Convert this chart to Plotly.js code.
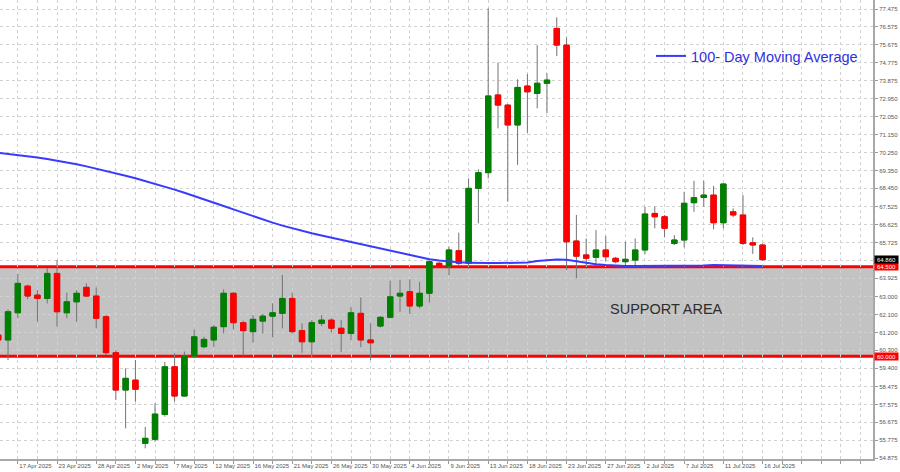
<!DOCTYPE html>
<html>
<head>
<meta charset="utf-8">
<script src="https://cdn.plot.ly/plotly-3.0.1.min.js"></script>
<style>html,body{margin:0;padding:0;background:#fff;}#chart{width:900px;height:472px;}</style>
</head>
<body>
<div id="chart"></div>
<script>
const dates = ["2025-04-15","2025-04-16","2025-04-17","2025-04-20","2025-04-21","2025-04-22","2025-04-23","2025-04-24","2025-04-25","2025-04-27",
"2025-04-28","2025-04-29","2025-04-30","2025-05-01","2025-05-02","2025-05-04","2025-05-05","2025-05-06","2025-05-07","2025-05-08",
"2025-05-09","2025-05-11","2025-05-12","2025-05-13","2025-05-14","2025-05-15","2025-05-16","2025-05-18","2025-05-19","2025-05-20",
"2025-05-21","2025-05-22","2025-05-23","2025-05-25","2025-05-26","2025-05-27","2025-05-28","2025-05-29","2025-05-30","2025-06-01",
"2025-06-02","2025-06-03","2025-06-04","2025-06-05","2025-06-06","2025-06-08","2025-06-09","2025-06-10","2025-06-11","2025-06-12",
"2025-06-13","2025-06-15","2025-06-16","2025-06-17","2025-06-18","2025-06-19","2025-06-20","2025-06-22","2025-06-23","2025-06-24",
"2025-06-25","2025-06-26","2025-06-27","2025-06-29","2025-06-30","2025-07-01","2025-07-02","2025-07-03","2025-07-04","2025-07-06",
"2025-07-07","2025-07-08","2025-07-09","2025-07-10","2025-07-11","2025-07-13","2025-07-14","2025-07-15","2025-07-16"];

const open = [61.07,60.82,62.19,63.53,63.08,62.91,64.17,62.19,62.74,63.47,
63.03,61.99,60.18,58.30,58.80,55.62,55.82,57.07,59.47,58.00,
60.01,60.48,60.82,61.49,63.17,61.69,61.24,61.77,62.02,62.16,
62.91,61.29,60.73,61.66,61.82,61.41,61.15,62.16,60.82,61.52,
61.96,63.03,63.25,62.53,63.17,64.68,64.54,65.31,64.68,68.45,
69.24,73.15,72.64,71.64,73.60,73.23,73.74,76.50,75.66,65.80,
65.10,64.98,65.35,64.93,64.76,64.84,65.35,67.19,67.02,65.68,
65.85,67.73,67.99,68.11,66.72,67.27,67.11,65.71,65.60];

const high = [61.47,62.35,64.14,63.60,63.33,64.43,64.84,63.20,63.33,63.67,
63.47,62.07,60.31,59.39,59.81,56.45,57.63,59.72,60.15,60.23,
61.35,60.98,61.57,63.37,63.22,61.79,62.07,62.12,62.66,64.09,
63.20,61.66,61.82,62.07,61.91,61.82,62.49,62.96,61.66,62.02,
63.80,63.84,63.87,63.75,64.81,64.75,65.51,66.22,68.95,69.41,
77.51,74.77,72.70,73.94,74.20,75.66,74.24,77.06,76.05,67.11,
65.93,66.35,66.05,65.00,65.76,65.93,67.53,67.53,67.11,66.10,
68.28,68.83,68.83,68.57,68.70,67.44,68.11,65.99,65.68];

const low = [60.65,59.81,61.91,62.88,61.74,62.66,61.49,61.91,61.74,62.99,
61.41,60.06,57.80,56.37,57.71,55.37,55.70,56.96,57.71,57.96,
59.90,60.40,60.48,61.15,61.35,60.01,60.68,61.15,60.95,61.41,
61.15,60.18,59.97,61.52,61.19,60.23,60.82,60.45,59.81,61.45,
61.91,62.24,62.12,62.41,62.70,64.45,64.09,64.59,64.54,66.69,
68.95,71.47,67.78,69.63,71.25,72.48,72.23,75.11,64.34,63.92,
64.51,64.59,64.76,64.68,64.59,64.59,65.15,66.44,65.99,65.60,
65.48,67.27,67.53,66.39,66.44,67.00,65.60,65.15,64.81];

const close = [60.82,62.24,63.67,63.03,62.91,64.17,62.24,62.74,63.17,63.03,
61.91,60.18,58.30,58.89,58.34,55.87,57.09,59.47,58.00,60.01,
60.98,60.85,61.46,63.17,61.69,61.29,61.86,62.02,62.19,62.91,
61.24,60.73,61.69,61.82,61.41,61.15,62.19,60.82,60.68,61.96,
62.99,63.17,62.53,63.17,64.76,64.48,65.35,64.68,68.45,69.24,
73.10,72.64,71.64,73.53,73.31,73.74,73.90,75.66,65.76,65.04,
64.93,65.35,65.01,64.76,64.88,65.35,67.16,67.02,66.44,65.85,
67.70,67.98,68.11,66.72,68.67,67.11,65.68,65.60,64.86];

const ma100 = [70.24,70.185,70.127,70.065,69.998,69.925,69.845,69.757,69.661,69.557,
69.445,69.33,69.21,69.085,68.955,68.82,68.68,68.535,68.385,68.23,
68.07,67.905,67.735,67.563,67.39,67.217,67.047,66.882,66.724,66.574,
66.434,66.309,66.191,66.078,65.968,65.858,65.748,65.638,65.528,65.418,
65.308,65.198,65.09,64.985,64.885,64.815,64.765,64.73,64.71,64.69,
64.69,64.69,64.69,64.69,64.72,64.80,64.85,64.87,64.86,64.78,
64.70,64.63,64.59,64.55,64.54,64.54,64.54,64.54,64.54,64.54,
64.54,64.56,64.57,64.59,64.58,64.57,64.56,64.55,64.54];

const tickDates = ["2025-04-17","2025-04-23","2025-04-28","2025-05-02","2025-05-07","2025-05-12","2025-05-16","2025-05-21","2025-05-26","2025-05-30",
"2025-06-04","2025-06-09","2025-06-13","2025-06-18","2025-06-23","2025-06-27","2025-07-02","2025-07-07","2025-07-11","2025-07-16"];
const tickLabels = ["17 Apr 2025","23 Apr 2025","28 Apr 2025","2 May 2025","7 May 2025","12 May 2025","16 May 2025","21 May 2025","26 May 2025","30 May 2025",
"4 Jun 2025","9 Jun 2025","13 Jun 2025","18 Jun 2025","23 Jun 2025","27 Jun 2025","2 Jul 2025","7 Jul 2025","11 Jul 2025","16 Jul 2025"];

const yTickVals = [77.475,76.575,75.675,74.775,73.875,72.950,72.050,71.150,70.250,69.350,68.450,67.525,66.625,65.725,64.825,63.925,63.000,62.100,61.200,60.300,59.400,58.475,57.575,56.675,55.775,54.875];

const supportTop = 64.5;
const supportBottom = 60.0;
const legendName = "100- Day Moving Average";
const supportLabel = "SUPPORT AREA";

const N = dates.length;
const gridVals = [], gridText = [];
for (let k = 0; k <= 88; k += 2) {
  if (k < N) {
    gridVals.push(dates[k]);
    const idx = tickDates.indexOf(dates[k]);
    gridText.push(idx >= 0 ? tickLabels[idx] : '');
  } else {
    gridVals.push(k);
    gridText.push('');
  }
}

const bodyHigh = open.map((o, i) => Math.max(o, close[i]));
const bodyLow = open.map((o, i) => Math.min(o, close[i]));
const wickColor = '#737373';
const green = '#008000', red = '#ff0000';

const traces = [
  {
    type: 'candlestick', x: dates, open: open, high: high, low: low, close: close,
    increasing: {line: {color: wickColor, width: 1}, fillcolor: green},
    decreasing: {line: {color: wickColor, width: 1}, fillcolor: red},
    showlegend: false, hoverinfo: 'skip'
  },
  {
    type: 'candlestick', x: dates, open: open, high: bodyHigh, low: bodyLow, close: close,
    increasing: {line: {color: green, width: 1}, fillcolor: green},
    decreasing: {line: {color: red, width: 1}, fillcolor: red},
    showlegend: false, hoverinfo: 'skip'
  },
  {
    type: 'scatter', mode: 'lines', x: dates, y: ma100, name: legendName,
    line: {color: '#3a3aff', width: 2}, showlegend: true, hoverinfo: 'skip'
  }
];

const fam = 'Liberation Sans, Arial, sans-serif';
const axisFont = {family: fam, size: 6, color: '#555'};

const layout = {
  width: 900, height: 472,
  margin: {l: 0, r: 27, t: 0, b: 13, pad: 0},
  paper_bgcolor: '#ffffff', plot_bgcolor: '#ffffff',
  font: {family: fam, size: 6, color: '#555'},
  showlegend: true,
  legend: {x: 651/873, xanchor: 'left', y: 1 - 40/459, yanchor: 'top',
           font: {family: fam, size: 14.5, color: '#2f2fe0'},
           bgcolor: 'rgba(0,0,0,0)', itemwidth: 30, borderwidth: 0},
  boxgap: 0.45, boxgroupgap: 0,
  xaxis: {
    type: 'category', range: [0.18, 89.27], rangeslider: {visible: false},
    tickmode: 'array', tickvals: gridVals, ticktext: gridText, tickangle: 0,
    ticks: 'outside', ticklen: 3, tickcolor: '#999', tickwidth: 1,
    showgrid: true, gridcolor: '#d2d2d2', griddash: 'dot', gridwidth: 1,
    showline: true, linecolor: '#a8a8a8', linewidth: 2,
    ticklabelposition: 'outside right', tickfont: axisFont,
    zeroline: false, automargin: false, fixedrange: true
  },
  yaxis: {
    side: 'right', range: [54.83, 77.93],
    tickmode: 'array', tickvals: yTickVals, ticktext: yTickVals.map(v => v.toFixed(3)),
    ticks: 'outside', ticklen: 3, tickcolor: '#999', tickwidth: 1,
    showgrid: true, gridcolor: '#d2d2d2', griddash: 'dot', gridwidth: 1,
    showline: true, linecolor: '#a8a8a8', linewidth: 2,
    tickfont: axisFont, zeroline: false, automargin: false, fixedrange: true
  },
  shapes: [
    {type: 'rect', xref: 'paper', x0: 0, x1: 1, yref: 'y', y0: supportBottom, y1: supportTop,
     fillcolor: '#c3c3c3', line: {width: 0}, layer: 'below'},
    {type: 'line', xref: 'paper', x0: 0, x1: 1, yref: 'y', y0: supportTop, y1: supportTop,
     line: {color: '#ff0000', width: 3}, layer: 'between'},
    {type: 'line', xref: 'paper', x0: 0, x1: 1, yref: 'y', y0: supportBottom, y1: supportBottom,
     line: {color: '#ff0000', width: 3}, layer: 'between'}
  ],
  annotations: [
    {xref: 'paper', x: 666.5/873, xanchor: 'center', yref: 'y', y: 62.38, yanchor: 'middle', text: supportLabel, showarrow: false,
     font: {family: fam, size: 14.5, color: '#2d2d2d'}},
    {xref: 'paper', x: 1, xanchor: 'left', xshift: 1, yref: 'y', y: supportTop, text: supportTop.toFixed(3),
     showarrow: false, bgcolor: '#ff0000', width: 23, height: 7, borderpad: 0,
     font: {family: fam, size: 6, color: '#ffffff'}},
    {xref: 'paper', x: 1, xanchor: 'left', xshift: 1, yref: 'y', y: supportBottom, text: supportBottom.toFixed(3),
     showarrow: false, bgcolor: '#ff0000', width: 23, height: 7, borderpad: 0,
     font: {family: fam, size: 6, color: '#ffffff'}},
    {xref: 'paper', x: 1, xanchor: 'left', xshift: 1, yref: 'y', y: close[N - 1], text: close[N - 1].toFixed(3),
     showarrow: false, bgcolor: '#000000', width: 23, height: 7, borderpad: 0,
     font: {family: fam, size: 6, color: '#ffffff'}}
  ]
};

Plotly.newPlot('chart', traces, layout, {displayModeBar: false, staticPlot: true});
</script>
</body>
</html>
